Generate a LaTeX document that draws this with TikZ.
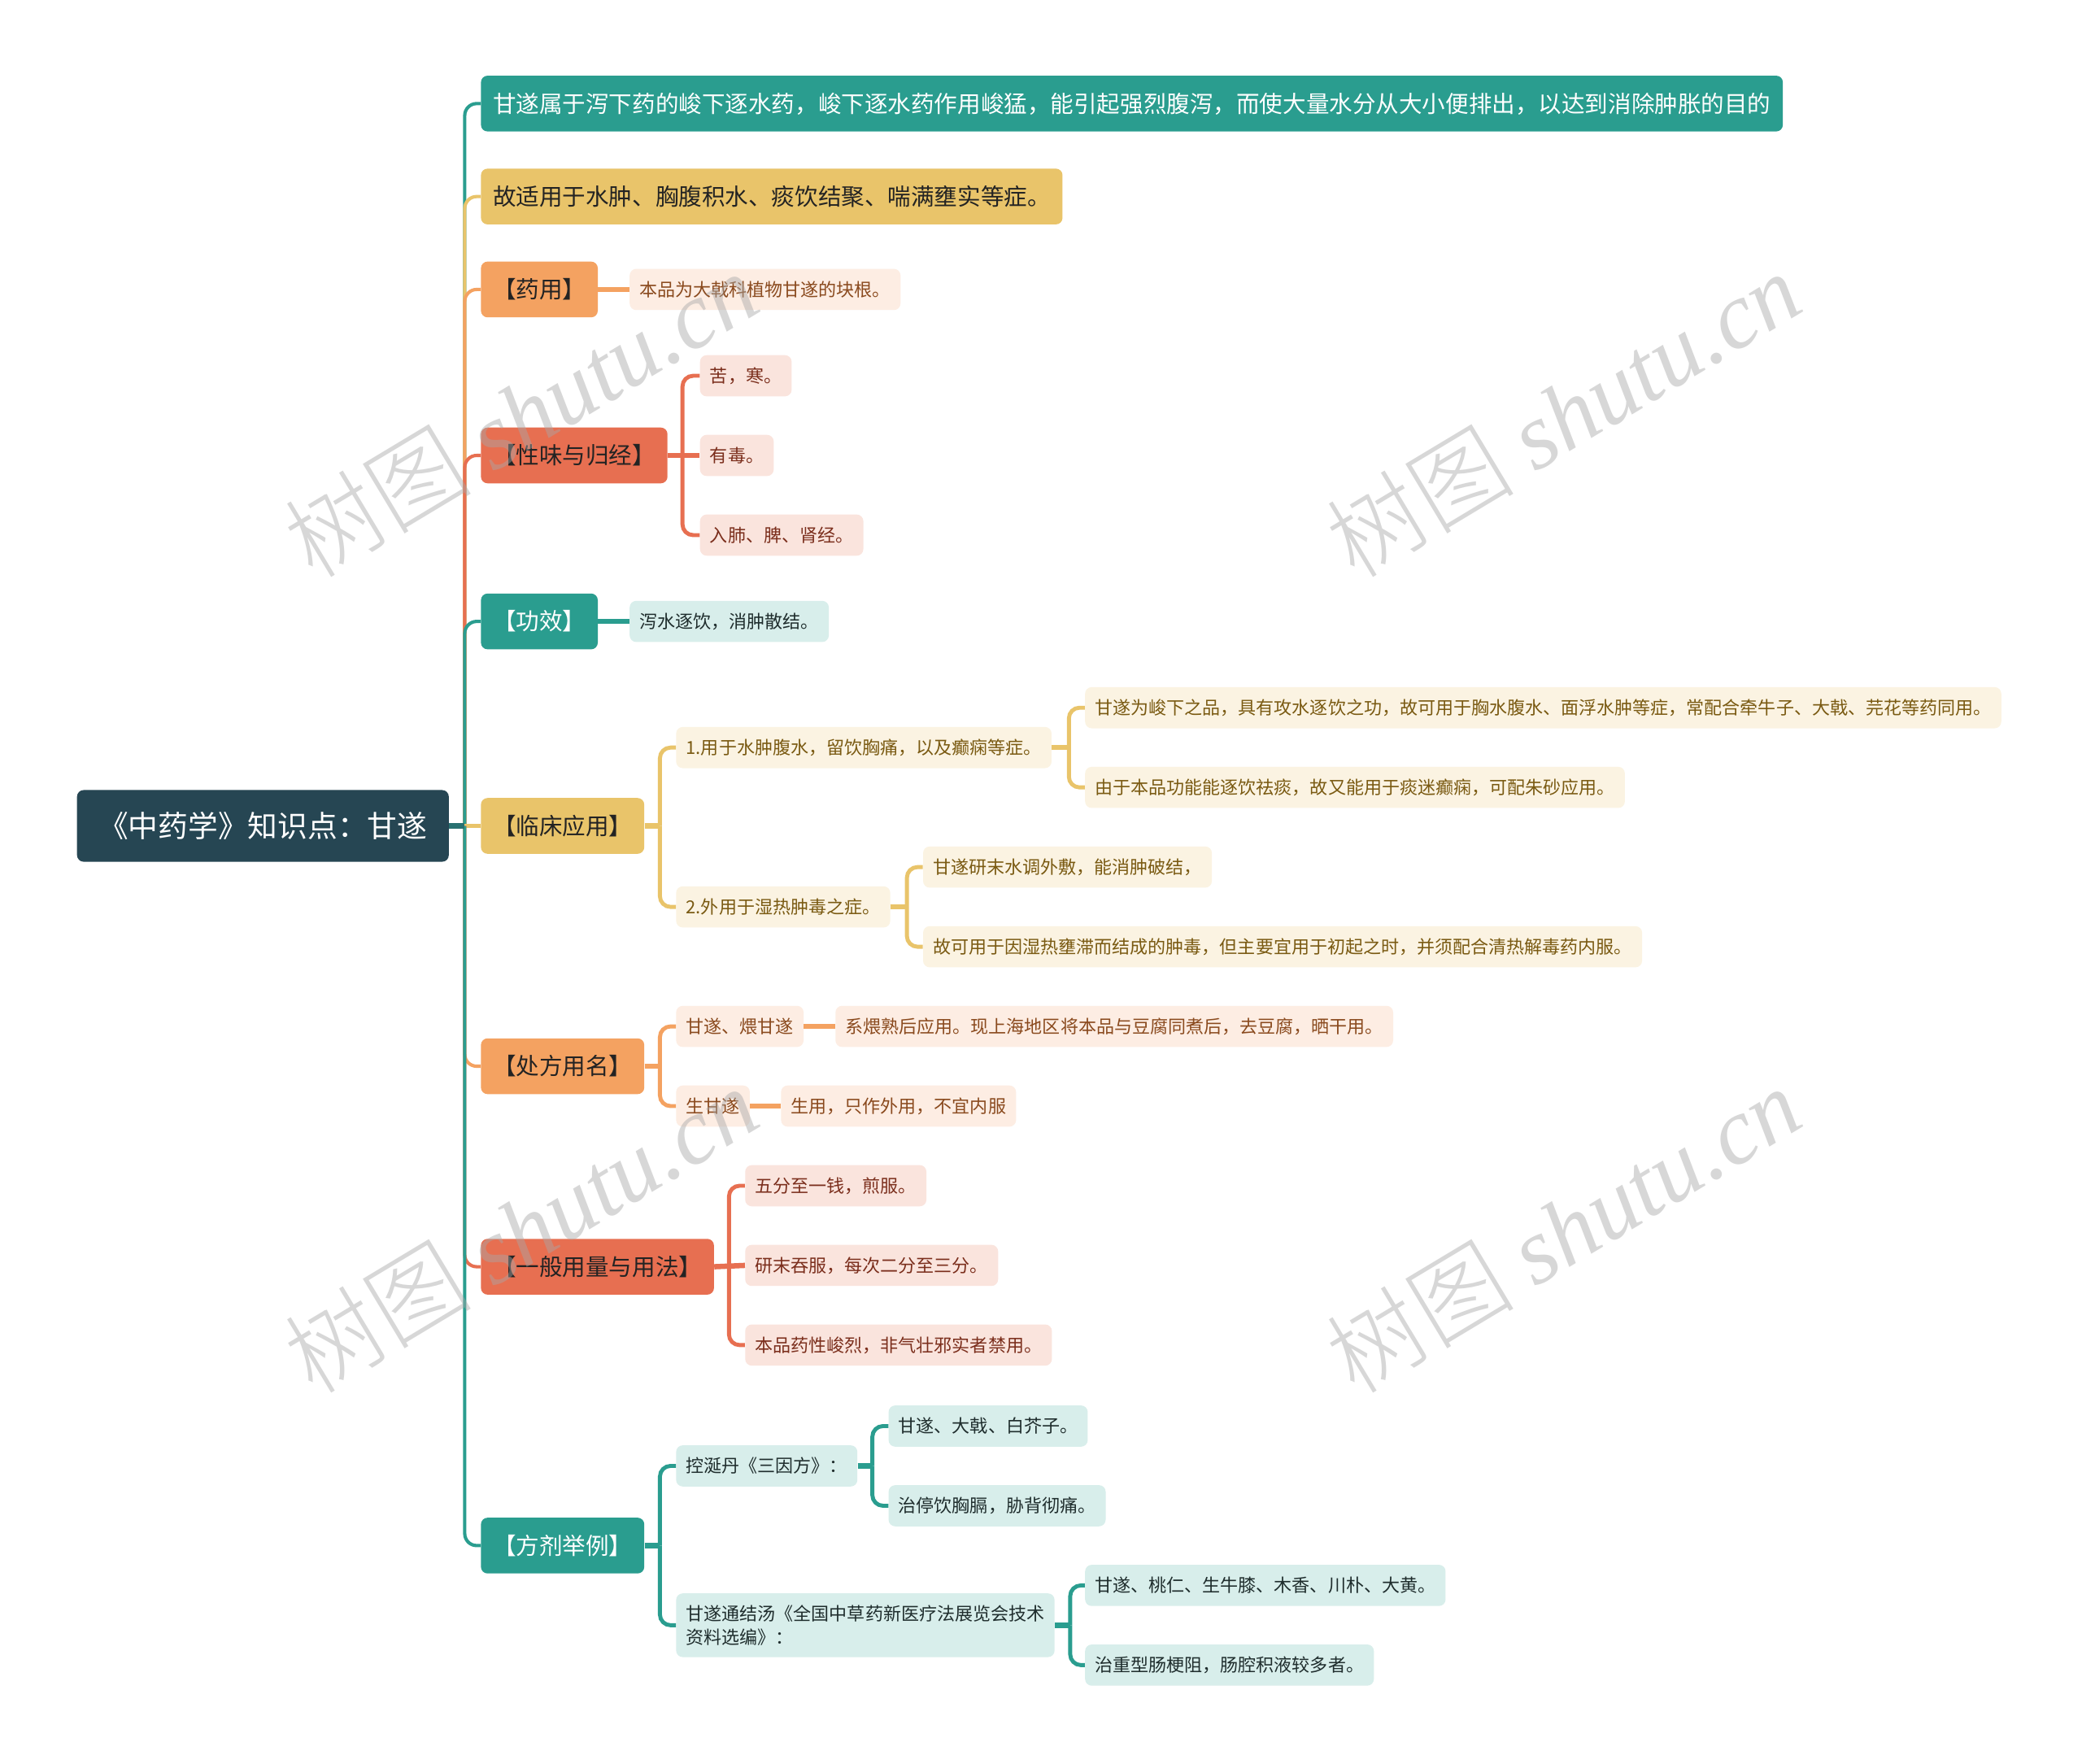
\documentclass[tikz,border=0pt]{standalone}
\usepackage{fontspec}
\setmainfont{Noto Sans CJK SC}
\newfontfamily\wmserif{Liberation Serif}
\newfontfamily\wmcjk{Noto Sans CJK SC Light}
\usetikzlibrary{calc}
\definecolor{cRoot}{HTML}{264653}
\definecolor{cTeal}{HTML}{2A9D8F}
\definecolor{cYel}{HTML}{E9C46A}
\definecolor{cOra}{HTML}{F4A261}
\definecolor{cRed}{HTML}{E76F51}
\definecolor{lTeal}{HTML}{D8EEEB}
\definecolor{lYel}{HTML}{FBF3E2}
\definecolor{lOra}{HTML}{FDEDE3}
\definecolor{lRed}{HTML}{FAE4DD}
\definecolor{tTeal}{HTML}{1F2D2D}
\definecolor{tYel}{HTML}{7A5A12}
\definecolor{tOra}{HTML}{8A4A1E}
\definecolor{tRed}{HTML}{7B2E1C}
\definecolor{tDark}{HTML}{232323}
\definecolor{wmgray}{HTML}{A8A8A8}
\tikzset{
  rootbox/.style={fill=cRoot, text=white, rounded corners=5pt, minimum width=280pt, minimum height=54pt,
    inner sep=0pt, font=\fontsize{22.5}{27}\selectfont, text height=19.8pt, text depth=2.7pt},
  mainbox/.style={rounded corners=5pt, inner xsep=9pt, inner ysep=0pt, minimum height=42pt, anchor=west,
    font=\fontsize{17.5}{21}\selectfont, text height=15.4pt, text depth=2.1pt},
  mteal/.style={mainbox, fill=cTeal, text=white},
  myel/.style={mainbox, fill=cYel, text=tDark},
  mora/.style={mainbox, fill=cOra, text=tDark},
  mred/.style={mainbox, fill=cRed, text=tDark},
  subbox/.style={rounded corners=5pt, inner xsep=7.5pt, inner ysep=0pt, minimum height=31pt, anchor=west,
    font=\fontsize{13.5}{18}\selectfont, text height=11.9pt, text depth=1.6pt},
  steal/.style={subbox, fill=lTeal, text=tTeal},
  syel/.style={subbox, fill=lYel, text=tYel},
  sora/.style={subbox, fill=lOra, text=tOra},
  sred/.style={subbox, fill=lRed, text=tRed},
  mconn/.style={line width=2.5pt, rounded corners=9pt},
  fconn/.style={line width=3pt, rounded corners=8pt},
  stub/.style={line width=4pt},
  wmark/.style={text=wmgray, text opacity=0.45, rotate=31, inner sep=0pt, font=\fontsize{71}{75}\selectfont},
}
\begin{document}
\begin{tikzpicture}[x=1pt,y=-1pt]
\fill[white] (0,0) rectangle (1568,1328);
\useasboundingbox (0,0) rectangle (1568,1328);

% root
\node[rootbox] (root) at (198,622) {《中药学》知识点：甘遂};
\coordinate (j0) at (350,622);

% main nodes
\node[mteal] (m1) at (362,78) {甘遂属于泻下药的峻下逐水药，峻下逐水药作用峻猛，能引起强烈腹泻，而使大量水分从大小便排出，以达到消除肿胀的目的};
\node[myel] (m2) at (362,148) {故适用于水肿、胸腹积水、痰饮结聚、喘满壅实等症。};
\node[mora] (m3) at (362,218) {【药用】};
\node[mred] (m4) at (362,343) {【性味与归经】};
\node[mteal] (m5) at (362,468) {【功效】};
\node[myel] (m6) at (362,622) {【临床应用】};
\node[mora] (m7) at (362,803) {【处方用名】};
\node[mred] (m8) at (362,954) {【一般用量与用法】};
\node[mteal] (m9) at (362,1164) {【方剂举例】};

% main connectors (drawn top to bottom)
\draw[mconn, cTeal] (j0) |- (m1.west);
\draw[mconn, cYel] (j0) |- (m2.west);
\draw[mconn, cOra] (j0) |- (m3.west);
\draw[mconn, cRed] (j0) |- (m4.west);
\draw[mconn, cTeal] (j0) |- (m5.west);
\draw[mconn, cYel] (j0) -- (m6.west);
\draw[mconn, cOra] (j0) |- (m7.west);
\draw[mconn, cRed] (j0) |- (m8.west);
\draw[mconn, cTeal] (j0) |- (m9.west);
\draw[stub, cRoot!50!cTeal] (root.east) -- (j0);

% 药用
\node[sora] (s3) at (474,218) {本品为大戟科植物甘遂的块根。};
\draw[stub, cOra] (m3.east) -- (s3.west);

% 性味与归经
\node[sred] (s4a) at (527,283) {苦，寒。};
\node[sred] (s4b) at (527,343) {有毒。};
\node[sred] (s4c) at (527,403) {入肺、脾、肾经。};
\coordinate (j4) at (514,343);
\draw[fconn, cRed] (j4) |- (s4a.west);
\draw[fconn, cRed] (j4) |- (s4c.west);
\draw[stub, cRed] (m4.east) -- (s4b.west);

% 功效
\node[steal] (s5) at (474,468) {泻水逐饮，消肿散结。};
\draw[stub, cTeal] (m5.east) -- (s5.west);

% 临床应用
\node[syel] (s6a) at (509,563) {1.用于水肿腹水，留饮胸痛，以及癫痫等症。};
\node[syel] (s6b) at (509,683) {2.外用于湿热肿毒之症。};
\coordinate (j6) at (497,622);
\draw[stub, cYel] (m6.east) -- (j6);
\draw[fconn, cYel] (j6) |- (s6a.west);
\draw[fconn, cYel] (j6) |- (s6b.west);

\node[syel] (s6a1) at (817,533) {甘遂为峻下之品，具有攻水逐饮之功，故可用于胸水腹水、面浮水肿等症，常配合牵牛子、大戟、芫花等药同用。};
\node[syel] (s6a2) at (817,593) {由于本品功能能逐饮祛痰，故又能用于痰迷癫痫，可配朱砂应用。};
\coordinate (j6a) at (805,563);
\draw[stub, cYel] (s6a.east) -- (j6a);
\draw[fconn, cYel] (j6a) |- (s6a1.west);
\draw[fconn, cYel] (j6a) |- (s6a2.west);

\node[syel] (s6b1) at (695,653) {甘遂研末水调外敷，能消肿破结，};
\node[syel] (s6b2) at (695,713) {故可用于因湿热壅滞而结成的肿毒，但主要宜用于初起之时，并须配合清热解毒药内服。};
\coordinate (j6b) at (683,683);
\draw[stub, cYel] (s6b.east) -- (j6b);
\draw[fconn, cYel] (j6b) |- (s6b1.west);
\draw[fconn, cYel] (j6b) |- (s6b2.west);

% 处方用名
\node[sora] (s7a) at (509,773) {甘遂、煨甘遂};
\node[sora] (s7b) at (509,833) {生甘遂};
\coordinate (j7) at (497,803);
\draw[stub, cOra] (m7.east) -- (j7);
\draw[fconn, cOra] (j7) |- (s7a.west);
\draw[fconn, cOra] (j7) |- (s7b.west);
\node[sora] (s7a1) at (629,773) {系煨熟后应用。现上海地区将本品与豆腐同煮后，去豆腐，晒干用。};
\draw[stub, cOra] (s7a.east) -- (s7a1.west);
\node[sora] (s7b1) at (588,833) {生用，只作外用，不宜内服};
\draw[stub, cOra] (s7b.east) -- (s7b1.west);

% 一般用量与用法
\node[sred] (s8a) at (561,893) {五分至一钱，煎服。};
\node[sred] (s8b) at (561,953) {研末吞服，每次二分至三分。};
\node[sred] (s8c) at (561,1013) {本品药性峻烈，非气壮邪实者禁用。};
\coordinate (j8) at (549,954);
\draw[fconn, cRed] (j8) |- (s8a.west);
\draw[fconn, cRed] (j8) |- (s8c.west);
\draw[stub, cRed] (m8.east) -- (s8b.west);

% 方剂举例
\node[steal] (s9a) at (509,1104) {控涎丹《三因方》：};
\node[subbox, fill=lTeal, text=tTeal, text height=, text depth=, align=left, minimum height=48pt,
  font=\fontsize{13.5}{17.5}\selectfont] (s9b) at (509,1224) {甘遂通结汤《全国中草药新医疗法展览会技术\\资料选编》：};
\coordinate (j9) at (497,1164);
\draw[stub, cTeal] (m9.east) -- (j9);
\draw[fconn, cTeal] (j9) |- (s9a.west);
\draw[fconn, cTeal] (j9) |- (s9b.west);

\node[steal] (s9a1) at (669,1074) {甘遂、大戟、白芥子。};
\node[steal] (s9a2) at (669,1134) {治停饮胸膈，胁背彻痛。};
\coordinate (j9a) at (657,1104);
\draw[stub, cTeal] (s9a.east) -- (j9a);
\draw[fconn, cTeal] (j9a) |- (s9a1.west);
\draw[fconn, cTeal] (j9a) |- (s9a2.west);

\node[steal] (s9b1) at (817,1194) {甘遂、桃仁、生牛膝、木香、川朴、大黄。};
\node[steal] (s9b2) at (817,1254) {治重型肠梗阻，肠腔积液较多者。};
\coordinate (j9b) at (806,1224);
\draw[stub, cTeal] (s9b.east) -- (j9b);
\draw[fconn, cTeal] (j9b) |- (s9b1.west);
\draw[fconn, cTeal] (j9b) |- (s9b2.west);

% watermarks
\node[wmark] (w1) at (392,312) {{\wmcjk 树图} {\wmserif\itshape shutu.cn}};
\node[wmark] (w2) at (1177,312) {{\wmcjk 树图} {\wmserif\itshape shutu.cn}};
\node[wmark] (w3) at (392,926) {{\wmcjk 树图} {\wmserif\itshape shutu.cn}};
\node[wmark] (w4) at (1177,926) {{\wmcjk 树图} {\wmserif\itshape shutu.cn}};
\end{tikzpicture}
\end{document}
